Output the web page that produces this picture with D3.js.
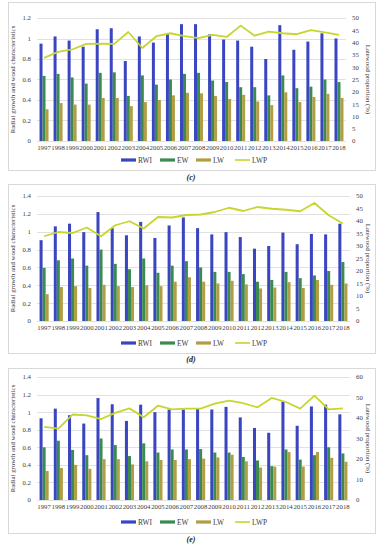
<!DOCTYPE html>
<html>
<head>
<meta charset="utf-8">
<script src="https://cdn.jsdelivr.net/npm/d3@7"></script>
<style>
  body { margin: 0; background: #fff; }
  svg { display: block; font-family: "Liberation Serif", "DejaVu Serif", serif; }
  .tick-lab { fill: #404040; font-size: 6.8px; }
  .axis-title { fill: #404040; font-size: 6.8px; }
  .legend-text { fill: #404040; font-size: 7.4px; }
  .panel-label { fill: #222; font-size: 8px; font-weight: bold; font-style: italic; }
</style>
</head>
<body>
<div id="chart"></div>
<script>
// years shared by all three panels
const years = d3.range(1997, 2019).map(String);
const seriesNames = ["RWI", "EW", "LW", "LWP"];

// panel (c)
const rwiC = [0.95, 1.02, 0.98, 0.92, 1.09, 1.10, 0.78, 1.02, 0.96, 1.05, 1.14, 1.14, 1.04, 0.99, 0.98, 0.92, 0.80, 1.13, 0.89, 0.97, 1.05, 1.00];
const ewC  = [0.635, 0.655, 0.62, 0.56, 0.665, 0.67, 0.44, 0.64, 0.55, 0.60, 0.655, 0.665, 0.59, 0.575, 0.525, 0.525, 0.445, 0.64, 0.515, 0.53, 0.60, 0.575];
const lwC  = [0.31, 0.37, 0.355, 0.355, 0.42, 0.42, 0.34, 0.38, 0.40, 0.445, 0.47, 0.465, 0.44, 0.41, 0.45, 0.385, 0.35, 0.475, 0.38, 0.43, 0.46, 0.42];
const lwpC = [33.8, 36.2, 37.2, 39.5, 39.6, 39.5, 44.3, 37.8, 42.6, 43.8, 42.6, 41.8, 43.1, 42.3, 46.9, 42.8, 44.5, 43.8, 43.4, 45.1, 44.2, 43.1];

// panel (d)
const rwiD = [0.905, 1.06, 1.09, 0.995, 1.22, 1.04, 0.96, 1.11, 0.93, 1.07, 1.16, 1.04, 0.97, 0.995, 0.94, 0.81, 0.84, 0.99, 0.86, 0.975, 0.97, 1.09];
const ewD  = [0.595, 0.68, 0.70, 0.62, 0.80, 0.64, 0.58, 0.70, 0.54, 0.62, 0.67, 0.60, 0.55, 0.55, 0.525, 0.44, 0.46, 0.55, 0.48, 0.51, 0.56, 0.66];
const lwD  = [0.30, 0.38, 0.39, 0.37, 0.405, 0.39, 0.38, 0.40, 0.39, 0.44, 0.49, 0.44, 0.42, 0.45, 0.41, 0.365, 0.375, 0.435, 0.37, 0.46, 0.405, 0.42];
const lwpD = [33.9, 35.6, 35.2, 37.4, 33.9, 38.3, 39.9, 37.0, 41.6, 41.4, 42.4, 42.6, 43.6, 45.3, 44.0, 45.6, 44.9, 44.5, 43.9, 47.2, 42.3, 39.0];

// panel (e)
const rwiE = [0.93, 1.04, 0.965, 0.87, 1.16, 1.09, 0.90, 1.085, 1.00, 1.03, 1.03, 1.035, 1.03, 1.06, 0.94, 0.82, 0.765, 1.12, 0.845, 1.065, 1.085, 0.975];
const ewE  = [0.60, 0.675, 0.57, 0.51, 0.70, 0.625, 0.50, 0.645, 0.54, 0.575, 0.575, 0.58, 0.54, 0.54, 0.49, 0.45, 0.385, 0.575, 0.46, 0.51, 0.60, 0.53];
const lwE  = [0.33, 0.365, 0.40, 0.355, 0.465, 0.465, 0.405, 0.44, 0.455, 0.455, 0.465, 0.47, 0.485, 0.515, 0.44, 0.37, 0.38, 0.545, 0.38, 0.545, 0.48, 0.435];
const lwpE = [35.7, 34.8, 41.7, 41.3, 39.5, 42.5, 44.7, 40.4, 46.0, 44.2, 44.6, 44.6, 47.0, 48.5, 47.2, 45.2, 49.8, 47.8, 44.6, 50.9, 44.2, 44.7];

// axis ranges for each panel
const leftMax = { c: 1.2, d: 1.4, e: 1.4 };
const rightMax = { c: 50, d: 50, e: 60 };
const rightStep = { c: 5, d: 5, e: 10 };

const colors = { RWI: "#3a46c0", EW: "#3b8a50", LW: "#b09d45", LWP: "#c6d62c" };

/** one boxed combo chart: grouped bars on the left axis, line on the right axis */
class ComboPanel {

    constructor(svg, box, plot) {
        this.g = svg.append("g");
        this.box = box;
        this.plot = plot;

        this.g.append("rect")
            .attr("x", box.x + 0.5).attr("y", box.y + 0.5)
            .attr("width", box.w).attr("height", box.h)
            .attr("fill", "#fff").attr("stroke", "#d9d9d9");
    }

    update(key, rwi, ew, lw, lwp) {
        let p = this.plot;
        let g = this.g;

        let x0 = d3.scaleBand().domain(years).range([p.left, p.right])
            .paddingInner(0.36).paddingOuter(0.18);
        let x1 = d3.scaleBand().domain(["RWI", "EW", "LW"]).range([0, x0.bandwidth()]);
        let y = d3.scaleLinear().domain([0, leftMax[key]]).range([p.bottom, p.top]);
        let y2 = d3.scaleLinear().domain([0, rightMax[key]]).range([p.bottom, p.top]);

        let leftTicks = d3.range(0, leftMax[key] + 0.001, 0.2);
        let rightTicks = d3.range(0, rightMax[key] + 0.001, rightStep[key]);

        // gridlines
        g.append("g").selectAll("line").data(leftTicks).join("line")
            .attr("x1", p.left).attr("x2", p.right)
            .attr("y1", d => Math.round(y(d)) + 0.5).attr("y2", d => Math.round(y(d)) + 0.5)
            .attr("stroke", "#d9d9d9").attr("stroke-width", 0.8);

        // left tick labels
        g.append("g").selectAll("text").data(leftTicks).join("text")
            .attr("class", "tick-lab")
            .attr("x", p.left - 6).attr("y", d => y(d) + 2.4)
            .attr("text-anchor", "end")
            .text(d => d3.format("~g")(+d.toFixed(1)));

        // right tick labels
        g.append("g").selectAll("text").data(rightTicks).join("text")
            .attr("class", "tick-lab")
            .attr("x", p.right + 6).attr("y", d => y2(d) + 2.4)
            .text(d => d);

        // year labels
        g.append("g").selectAll("text").data(years).join("text")
            .attr("class", "tick-lab")
            .attr("x", d => x0(d) + x0.bandwidth() / 2).attr("y", p.bottom + 9)
            .attr("text-anchor", "middle")
            .text(d => d);

        // bars
        let rows = years.map((yr, i) => ({ year: yr, RWI: rwi[i], EW: ew[i], LW: lw[i] }));
        g.append("g").selectAll("g").data(rows).join("g")
            .attr("transform", d => `translate(${x0(d.year)},0)`)
            .selectAll("rect")
            .data(d => x1.domain().map(k => ({ key: k, value: d[k] })))
            .join("rect")
            .attr("x", d => x1(d.key)).attr("width", x1.bandwidth())
            .attr("y", d => y(d.value)).attr("height", d => y(0) - y(d.value))
            .attr("fill", d => colors[d.key]);

        // latewood proportion line
        let line = d3.line()
            .x((d, i) => x0(years[i]) + x0.bandwidth() / 2)
            .y(d => y2(d));
        g.append("path").datum(lwp)
            .attr("d", line)
            .attr("fill", "none")
            .attr("stroke", colors.LWP)
            .attr("stroke-width", 1.8)
            .attr("stroke-linejoin", "round");

        // axis titles
        let mid = (p.top + p.bottom) / 2;
        g.append("text").attr("class", "axis-title")
            .attr("transform", `translate(${this.box.x + 7},${mid}) rotate(-90)`)
            .attr("text-anchor", "middle")
            .text("Radial growth and wood characteristics");
        g.append("text").attr("class", "axis-title")
            .attr("transform", `translate(${this.box.x + this.box.w - 9},${mid}) rotate(90)`)
            .attr("text-anchor", "middle")
            .text("Latewood proportion (%)");

        // legend
        let legX = [121, 160, 196, 235];
        let lg = g.append("g").selectAll("g").data(seriesNames).join("g")
            .attr("transform", (d, i) => `translate(${legX[i]},${p.legendY})`);
        lg.append("rect")
            .attr("x", 0).attr("y", d => d == "LWP" ? -0.8 : -1.6)
            .attr("width", 15).attr("height", d => d == "LWP" ? 1.6 : 3.2)
            .attr("fill", d => colors[d]);
        lg.append("text").attr("class", "legend-text")
            .attr("x", 17).attr("y", 2.6)
            .text(d => d);

        // panel label under the box
        g.append("text").attr("class", "panel-label")
            .attr("x", 191).attr("y", p.labelY)
            .attr("text-anchor", "middle")
            .text(`(${key})`);
    }
}

let svg = d3.select("#chart").append("svg").attr("width", 382).attr("height", 550);

let pc = new ComboPanel(svg, { x: 8, y: 2, w: 367, h: 168 },
    { left: 37, right: 346, top: 18, bottom: 141, legendY: 160, labelY: 180 });
pc.update("c", rwiC, ewC, lwC, lwpC);

let pd = new ComboPanel(svg, { x: 8, y: 184, w: 367, h: 169 },
    { left: 37, right: 350, top: 196, bottom: 321, legendY: 343, labelY: 362 });
pd.update("d", rwiD, ewD, lwD, lwpD);

let pe = new ComboPanel(svg, { x: 8, y: 368, w: 367, h: 165 },
    { left: 37, right: 350, top: 377, bottom: 500, legendY: 522, labelY: 542 });
pe.update("e", rwiE, ewE, lwE, lwpE);
</script>
</body>
</html>
